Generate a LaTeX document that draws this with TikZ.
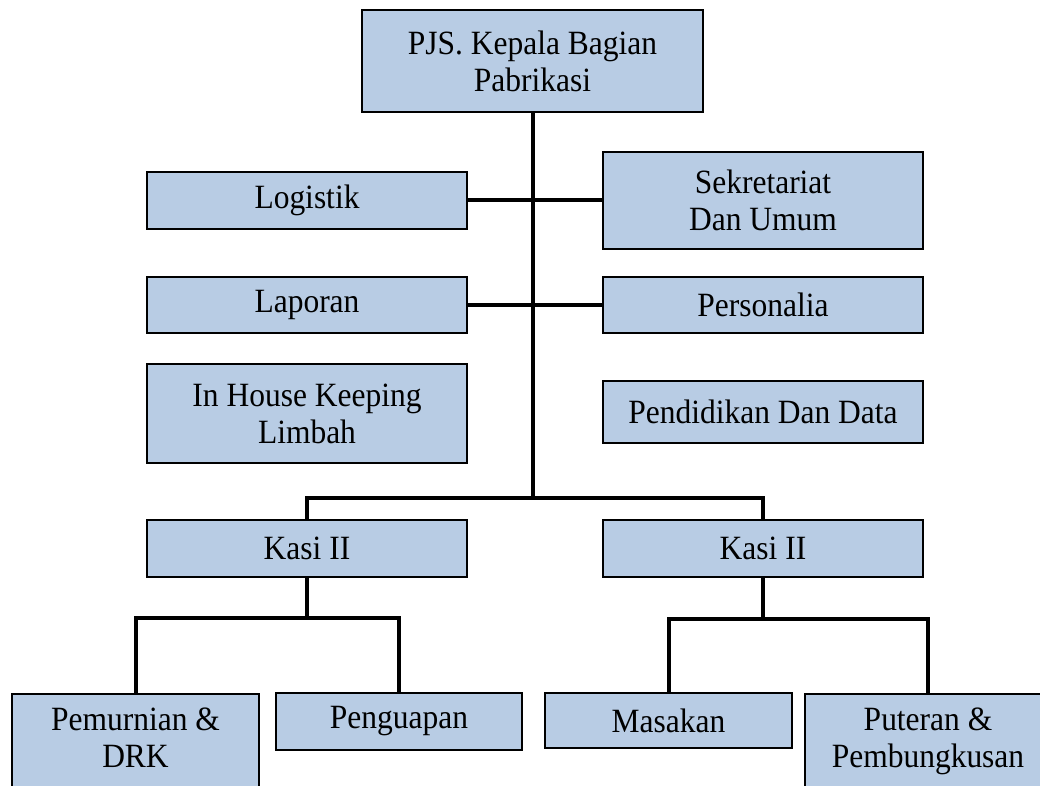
\documentclass[tikz,border=0pt]{standalone}
\usepackage{fontspec}
\setmainfont[FakeStretch=0.926]{Liberation Serif}
\definecolor{boxfill}{RGB}{184,204,228}
\begin{document}
\begin{tikzpicture}[x=1pt,y=-1pt,
  box/.style={draw=black, line width=1.5pt, fill=boxfill, inner sep=0pt, align=center,
    font=\fontsize{34}{37}\selectfont},
  cutbox/.style={box, anchor=north, text height=73.5pt, text depth=40pt},
  link/.style={line width=4pt, black, line join=miter}]
\useasboundingbox (0,0) rectangle (1040,786);
\clip (0,0) rectangle (1040,786);
\node[box, minimum width=341pt, minimum height=102pt] (top) at (532.5,61) {PJS. Kepala Bagian\\Pabrikasi};
\node[box, minimum width=320pt, minimum height=57pt] (log) at (307,200.5) {Logistik};
\node[box, minimum width=320pt, minimum height=97pt] (sek) at (763,200.5) {Sekretariat\\Dan Umum};
\node[box, minimum width=320pt, minimum height=56pt] (lap) at (307,305) {Laporan};
\node[box, minimum width=320pt, minimum height=56pt] (per) at (763,305) {Personalia};
\node[box, minimum width=320pt, minimum height=99pt] (ihk) at (307,413.5) {In House Keeping\\Limbah};
\node[box, minimum width=320pt, minimum height=62pt] (pdd) at (763,412) {Pendidikan Dan Data};
\node[box, minimum width=320pt, minimum height=57pt] (kasiL) at (307,548.5) {Kasi II};
\node[box, minimum width=320pt, minimum height=57pt] (kasiR) at (763,548.5) {Kasi II};
\node[cutbox, minimum width=247pt] (pem) at (135.5,693) {Pemurnian \&\\DRK};
\node[box, minimum width=246pt, minimum height=57pt] (pen) at (399,721.5) {Penguapan};
\node[box, minimum width=247pt, minimum height=55pt] (mas) at (668.5,720.5) {Masakan};
\node[cutbox, minimum width=246pt] (put) at (928,693) {Puteran \&\\Pembungkusan};
\path (top.south) ++(0,385) coordinate (hub);
\path (kasiL.south) ++(0,40) coordinate (bL);
\path (kasiR.south) ++(0,41) coordinate (bR);
\draw[link] (top.south) -- (hub);
\draw[link] (log.east) -- (sek.west);
\draw[link] (lap.east) -- (per.west);
\draw[link] (kasiL.north) |- (hub) -| (kasiR.north);
\draw[link] (kasiL.south) -- (bL);
\draw[link] (pem.north) |- (bL) -| (pen.north);
\draw[link] (kasiR.south) -- (bR);
\draw[link] (mas.north) |- (bR) -| (put.north);
\end{tikzpicture}
\end{document}
